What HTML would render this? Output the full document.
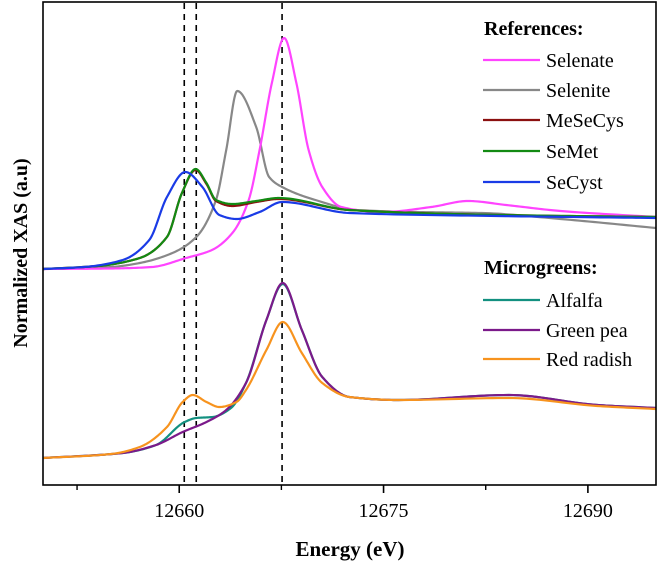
<!DOCTYPE html>
<html><head><meta charset="utf-8"><style>
html,body{margin:0;padding:0;background:#fff;}
svg{display:block;font-family:"Liberation Serif",serif;}
</style></head><body>
<svg id="chart" width="661" height="564" viewBox="0 0 661 564">
<g id="plot"></g>
<rect x="43" y="2" width="613" height="483" fill="none" stroke="#000" stroke-width="1.6"/>
<g id="xaxis"></g>
<text x="350" y="556" text-anchor="middle" font-size="21" font-weight="bold">Energy (eV)</text>
<text transform="translate(27,253) rotate(-90)" text-anchor="middle" font-size="20" font-weight="bold">Normalized XAS (a.u)</text>
<g id="legend"></g>
</svg>
<script>
const xTicks=[12660,12675,12690];
const xMinorTicks=[12652.5,12667.5,12682.5];
const markerLines=[12660.37,12661.25,12667.55];
const seriesNames=["Selenate","Selenite","MeSeCys","SeMet","SeCyst","Alfalfa","Green pea","Red radish"];
const seriesColors=["#ff44ff","#888888","#8b1010","#138a13","#1a3be6","#139080","#7b1a8a","#f7931e"];
const selenateE=[12650,12655,12658,12660.5,12662.4,12663.9,12665.1,12665.9,12666.8,12667.7,12668.6,12669.5,12670.5,12671.9,12674.9,12678.5,12681.2,12684,12688,12695];
const selenateY=[2.16,2.165,2.18,2.27,2.35,2.52,2.85,3.35,4.02,4.47,4.02,3.35,2.98,2.78,2.73,2.78,2.84,2.80,2.74,2.68];
const seleniteE=[12650,12655,12657.1,12659.5,12661.25,12662.7,12663.45,12664.26,12665.65,12666.6,12667.7,12670,12673,12677.4,12682.2,12688,12695];
const seleniteY=[2.16,2.18,2.22,2.32,2.48,2.85,3.35,3.94,3.58,3.08,2.97,2.85,2.75,2.73,2.72,2.66,2.57];
const mesecysE=[12650,12654,12657.1,12659.1,12660.2,12661.2,12662,12662.7,12663.9,12665.65,12667.3,12672.5,12683.4,12695];
const mesecysY=[2.16,2.19,2.27,2.48,2.92,3.15,3.01,2.84,2.79,2.83,2.86,2.75,2.70,2.68];
const semetE=[12650,12654,12657.1,12659.1,12660.2,12661.2,12662,12662.7,12663.9,12665.65,12667.3,12672.5,12683.4,12695];
const semetY=[2.16,2.19,2.27,2.48,2.92,3.16,3.02,2.85,2.81,2.84,2.87,2.75,2.70,2.68];
const secystE=[12650,12653,12655.85,12657.8,12659.1,12660.45,12661.7,12662.95,12664.2,12665.9,12667.55,12672.5,12683.4,12695];
const secystY=[2.16,2.18,2.25,2.45,2.88,3.13,2.98,2.70,2.66,2.73,2.83,2.72,2.69,2.67];
const alfalfaE=[12650,12655.85,12658.3,12660.4,12661.25,12662.45,12663.8,12664.9,12666.4,12667.6,12669,12670.5,12672.5,12676.1,12684.2,12690.7,12695];
const alfalfaY=[0.27,0.32,0.40,0.63,0.67,0.68,0.77,1.02,1.65,2.01,1.55,1.08,0.88,0.85,0.90,0.80,0.77];
const greenpeaE=[12650,12655.85,12658.3,12660.25,12662,12663.45,12664.9,12666.4,12667.6,12669,12670.5,12672.5,12676.1,12684.2,12690.7,12695];
const greenpeaY=[0.27,0.32,0.40,0.53,0.63,0.75,1.02,1.65,2.02,1.55,1.08,0.88,0.85,0.90,0.80,0.77];
const radishE=[12650,12655,12657.1,12659.1,12660.25,12661,12662,12662.95,12664.2,12664.9,12666.4,12667.6,12669,12670.5,12672.5,12676.1,12684.2,12690.7,12695];
const radishY=[0.27,0.31,0.38,0.58,0.83,0.90,0.83,0.78,0.83,0.95,1.35,1.63,1.32,1.02,0.88,0.85,0.87,0.79,0.76];
const seriesE=[selenateE,seleniteE,mesecysE,semetE,secystE,alfalfaE,greenpeaE,radishE];
const seriesY=[selenateY,seleniteY,mesecysY,semetY,secystY,alfalfaY,greenpeaY,radishY];

const NS="http://www.w3.org/2000/svg";
const X0=12650,X1=12695,PX0=43,PX1=656;
function xs(e){return PX0+(e-X0)/(X1-X0)*(PX1-PX0);}
function ys(v){return 485-v*100;}
function mk(tag,attrs,parent){const el=document.createElementNS(NS,tag);for(const k in attrs)el.setAttribute(k,attrs[k]);parent.appendChild(el);return el;}
// monotone cubic (Fritsch-Carlson) in data space, sampled densely
function monoPath(E,Y){
 const n=E.length,d=[],m=[];
 for(let i=0;i<n-1;i++)d.push((Y[i+1]-Y[i])/(E[i+1]-E[i]));
 m[0]=d[0];m[n-1]=d[n-2];
 for(let i=1;i<n-1;i++){ if(d[i-1]*d[i]<=0)m[i]=0; else { const h0=E[i]-E[i-1],h1=E[i+1]-E[i];const w1=2*h1+h0,w2=h1+2*h0;m[i]=(w1+w2)/(w1/d[i-1]+w2/d[i]); } }
 let s="";
 for(let i=0;i<n-1;i++){const h=E[i+1]-E[i];
  for(let k=0;k<=20;k++){ if(i>0&&k==0)continue; const t=k/20,t2=t*t,t3=t2*t;
   const y=(2*t3-3*t2+1)*Y[i]+(t3-2*t2+t)*h*m[i]+(-2*t3+3*t2)*Y[i+1]+(t3-t2)*h*m[i+1];
   const x=E[i]+t*h; s+=(s?" L":"M")+xs(x).toFixed(2)+","+ys(y).toFixed(2);}}
 return s;}
const plot=document.getElementById('plot');
markerLines.forEach(function(e){
 const l=mk('line',{x1:xs(e),x2:xs(e),y1:3,y2:484,stroke:'#000','stroke-width':1.6,'stroke-dasharray':'6,5'},plot);
 
 
});
const order=[1,0,2,3,4,5,6,7];
order.forEach(function(i){
 const p=mk('path',{d:monoPath(seriesE[i],seriesY[i]),fill:'none',stroke:seriesColors[i],'stroke-width':2.2,'stroke-linejoin':'round'},plot);
 
 
});
const xa=document.getElementById('xaxis');
xTicks.forEach(function(t){
 const l=mk('line',{x1:xs(t),x2:xs(t),y1:485,y2:493,stroke:'#000','stroke-width':1.6},xa);
 
 
 const tx=mk('text',{x:xs(t),y:517,'text-anchor':'middle','font-size':20},xa);
 tx.textContent=t;
 
 
});
xMinorTicks.forEach(function(t){
 const l=mk('line',{x1:xs(t),x2:xs(t),y1:485,y2:490,stroke:'#000','stroke-width':1.4},xa);
 
 
});
const lg=document.getElementById('legend');
function header(txt,y){const t=mk('text',{x:484,y:y,'font-size':20,'font-weight':'bold'},lg);t.textContent=txt;
 
 }
header('References:',35);
header('Microgreens:',274);
const legY=[60,90,120,151,182,300,330,359];
seriesNames.forEach(function(n,i){
 const l=mk('line',{x1:483,x2:540,y1:legY[i],y2:legY[i],stroke:seriesColors[i],'stroke-width':2.2},lg);
 
 
 const t=mk('text',{x:546,y:legY[i]+7,'font-size':20},lg);
 t.textContent=n;
 
 
});
</script>
</body></html>
